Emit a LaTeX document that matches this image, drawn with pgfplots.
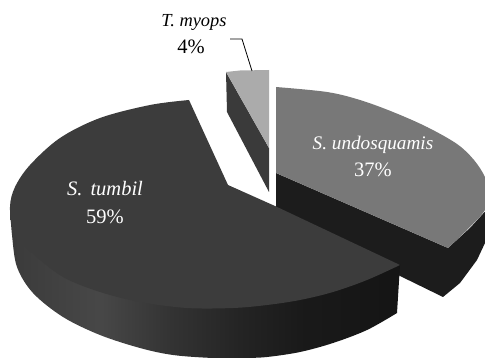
\documentclass[border=0pt]{standalone}
\usepackage{fontspec}
\setmainfont{Liberation Serif}
\usepackage{pgfplots}
\pgfplotsset{compat=1.18}
\definecolor{tumbilTop}{HTML}{3C3C3C}
\definecolor{undoTop}{HTML}{787878}
\definecolor{undoSide}{HTML}{1C1C1C}
\definecolor{myopsTop}{HTML}{ABABAB}
\definecolor{myopsSide}{HTML}{3A3A3A}
% Curved wall of the large slice: lit on the left, falling off to the right
\pgfdeclarehorizontalshading{tumbilwall}{100bp}{
  color(0bp)=(black!77);
  color(25bp)=(black!77);
  color(36.6bp)=(black!72);
  color(45.7bp)=(black!80);
  color(54.7bp)=(black!86);
  color(62.5bp)=(black!90);
  color(75bp)=(black!92);
  color(100bp)=(black!92)}
\newcommand{\pct}[1]{{\fontsize{20.5}{25}\selectfont #1\%}}
\begin{document}
\begin{tikzpicture}
\useasboundingbox (0,0) rectangle (485pt,358pt);
\begin{axis}[
  at={(0,0)}, anchor=south west,
  scale only axis, width=485pt, height=358pt,
  xmin=0, xmax=485, ymin=0, ymax=358, y dir=reverse,
  hide axis, clip=true,
  every axis plot/.append style={line width=0pt},
]
% S. undosquamis: wall
\addplot[draw=none, fill=undoSide] coordinates {
  (276,173) (448,248) (470,228) (491,205) (491,228) (485,243) (477,260)
  (460,283) (443,297) (398,275) (276,215)} --cycle;
% S. undosquamis: top face
\addplot[draw=none, fill=undoTop, smooth, tension=0.55] coordinates {
  (276,87) (327,92) (360,100) (393,112) (427,127) (457,144) (474,160)
  (485,177) (489,192) (485,210) (467,230) (448,248)}
  -- (axis cs:276,173) -- cycle;
% T. myops
\addplot[draw=none, fill=myopsSide] coordinates {(226,72) (269,148) (269,192) (227,112)} --cycle;
\addplot[draw=none, fill=myopsTop] coordinates {(226,72) (240,70.5) (269,70) (269,148)} --cycle;
% S. tumbil: wall
\addplot[draw=none, shade, shading=tumbilwall, smooth, tension=0.55] coordinates {
  (10,207) (12,235) (17,267) (33,293) (63,317) (100,335) (140,348) (173,355)
  (213,358) (243,358) (267,357) (300,352) (333,343) (367,330) (397,313)}
  -- (axis cs:400,265) -- cycle;
% S. tumbil: top face
\addplot[draw=none, fill=tumbilTop, smooth, tension=0.55] coordinates {
  (189,100) (150,105) (100,118) (60,138) (30,165) (15,187) (10,207) (14,233)
  (32,253) (63,277) (100,292) (140,302) (187,308) (233,308) (267,305)
  (300,300) (333,292) (367,280) (400,265)}
  -- (axis cs:275,206) -- (axis cs:228,185) -- cycle;
% Leader from the T. myops label to its slice
\addplot[black, line width=0.8pt, sharp plot] coordinates {(230,39) (242,39) (252,71)};
% Labels
\node[text=black, font=\fontsize{18.4}{25}\selectfont] at (axis cs:194,22) {\textit{T. myops}};
\node[text=black] at (axis cs:191,47) {\pct{4}};
\node[text=white, font=\fontsize{19.2}{25}\selectfont] at (axis cs:373,145) {\textit{S. undosquamis}};
\node[text=white] at (axis cs:373,170) {\pct{37}};
\node[text=white, font=\fontsize{20.5}{27}\selectfont] at (axis cs:105,189) {\textit{S.\hspace{3pt} tumbil}};
\node[text=white] at (axis cs:105,217) {\pct{59}};
\end{axis}
\end{tikzpicture}
\end{document}
